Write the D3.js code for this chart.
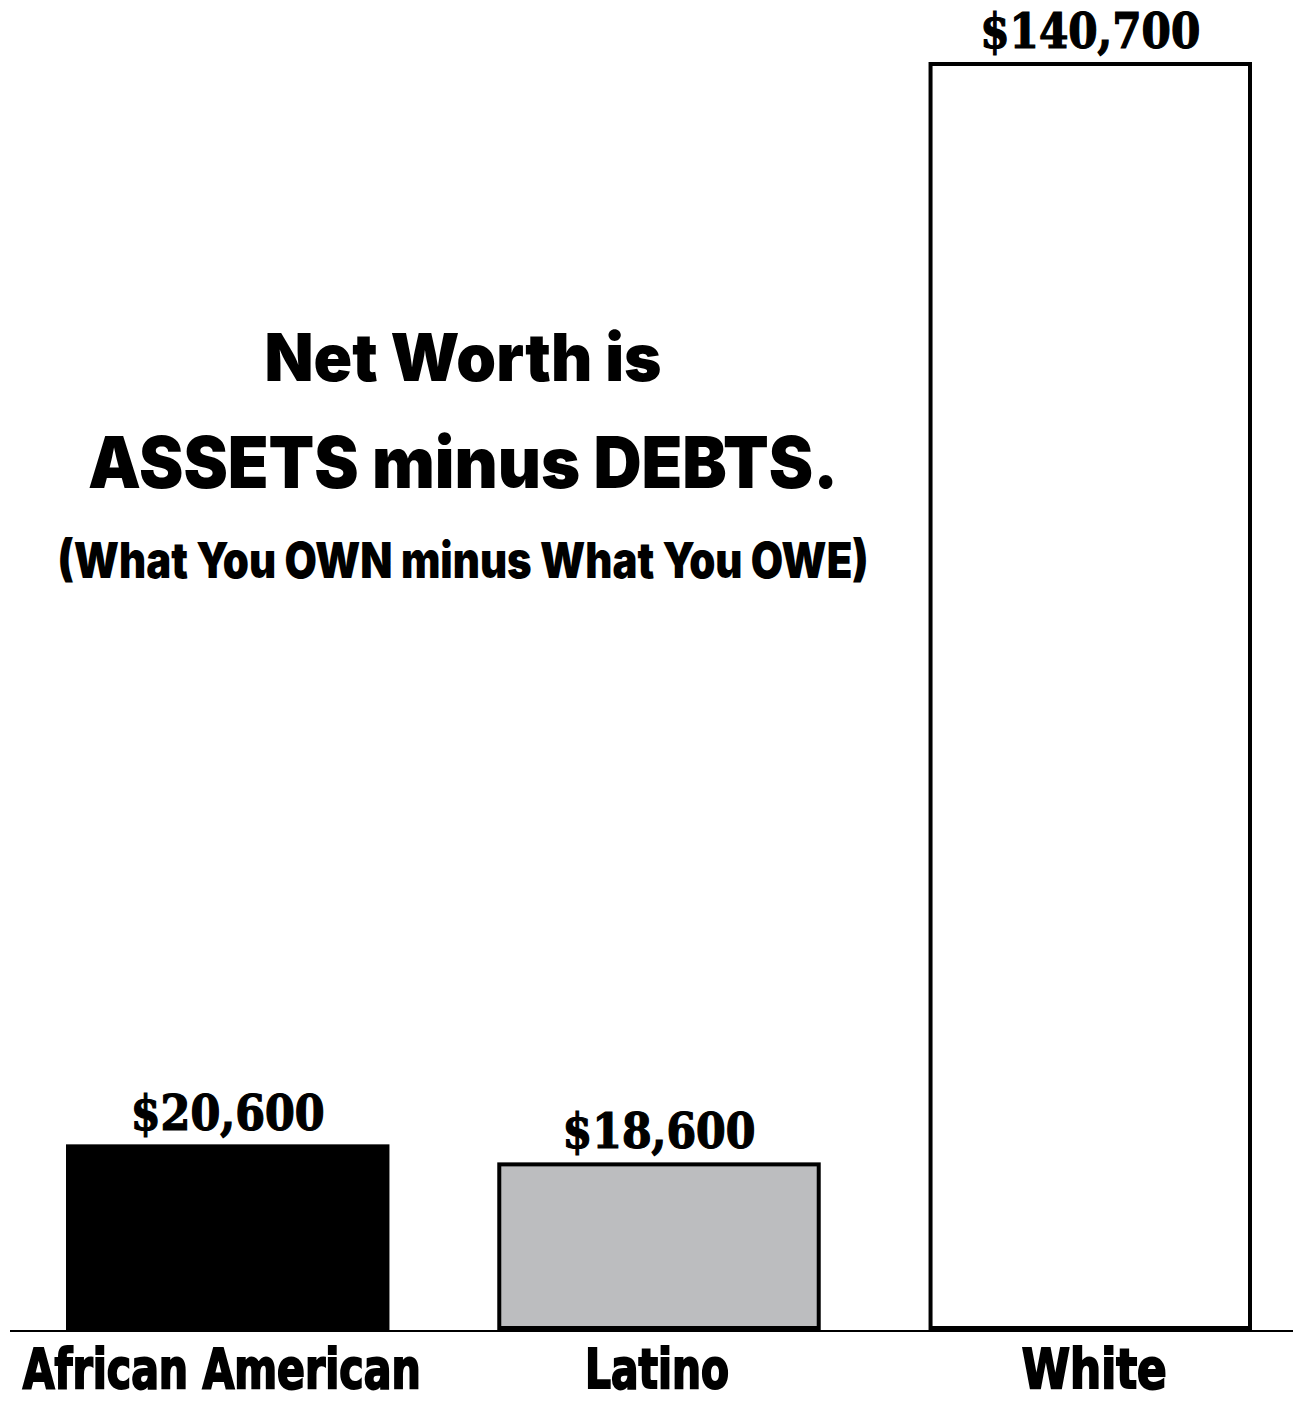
<!DOCTYPE html>
<html><head><meta charset="utf-8">
<script src="https://cdn.jsdelivr.net/npm/d3@7"></script>
<style>
html,body{margin:0;padding:0;background:#fff;}
svg{display:block;}
</style></head>
<body>
<svg id="chart" width="1293" height="1401"></svg>
<script>
const categories = ["African American", "Latino", "White"];
const values = [20600, 18600, 140700];
const valueLabels = ["$20,600", "$18,600", "$140,700"];
const fills = ["#000000", "#bcbdbf", "#ffffff"];
const titleLines = ["Net Worth is", "ASSETS minus DEBTS.", "(What You OWN minus What You OWE)"];

const svg = d3.select("#chart");
const W = 1293, H = 1401;
const baseY = 1330;

const x = d3.scaleBand().domain(categories).range([66, 1252]).paddingInner(0.25).paddingOuter(0);
const y = d3.scaleLinear().domain([0, d3.max(values)]).range([baseY, 62]);

const sw = 4;
const data = categories.map((c, i) => ({c, v: values[i], label: valueLabels[i], fill: fills[i]}));

svg.append("g").selectAll("rect").data(data).join("rect")
  .attr("x", d => x(d.c) + sw/2)
  .attr("width", x.bandwidth() - sw)
  .attr("y", d => y(d.v) + sw/2)
  .attr("height", d => baseY - y(d.v) - sw)
  .attr("fill", d => d.fill)
  .attr("stroke", "#000")
  .attr("stroke-width", sw);

// baseline axis
svg.append("line").attr("x1", 10).attr("x2", W).attr("y1", baseY + 1).attr("y2", baseY + 1)
  .attr("stroke", "#000").attr("stroke-width", 2);

const labelWidths = [194, 193, 220];
svg.append("g").selectAll("text").data(data).join("text")
  .attr("x", d => x(d.c) + x.bandwidth()/2)
  .attr("y", d => y(d.v) - 14)
  .attr("text-anchor", "middle")
  .attr("font-family", "'DejaVu Serif Condensed','DejaVu Serif',serif")
  .attr("font-weight", "bold")
  .attr("font-size", 48)
  .attr("textLength", (d, i) => labelWidths[i])
  .attr("lengthAdjust", "spacingAndGlyphs")
  .attr("fill", "#000")
  .attr("stroke", "#000")
  .attr("stroke-width", 1.2)
  .text(d => d.label);

const catWidths = [398, 144, 145];
svg.append("g").selectAll("text").data(data).join("text")
  .attr("x", (d, i) => x(d.c) + x.bandwidth()/2 + (i === 0 ? -6 : (i === 2 ? 4 : -2)))
  .attr("y", 1388)
  .attr("text-anchor", "middle")
  .attr("font-family", "'DejaVu Sans Condensed','DejaVu Sans',sans-serif")
  .attr("font-weight", "bold")
  .attr("font-size", 56)
  .attr("textLength", (d, i) => catWidths[i])
  .attr("lengthAdjust", "spacingAndGlyphs")
  .attr("fill", "#000")
  .attr("stroke", "#000")
  .attr("stroke-width", 2)
  .text(d => d.c);

const titleY = [381, 488, 578];
const titleSize = [66, 71, 50];
const titleW = [397, 750, 811];
svg.append("g").selectAll("text").data(titleLines).join("text")
  .attr("x", 463)
  .attr("y", (d, i) => titleY[i])
  .attr("text-anchor", "middle")
  .attr("font-family", "Inter, 'Open Sans', 'DejaVu Sans', sans-serif")
  .attr("font-weight", 900)
  .attr("font-size", (d, i) => titleSize[i])
  .attr("textLength", (d, i) => titleW[i])
  .attr("lengthAdjust", "spacingAndGlyphs")
  .attr("fill", "#000")
  .text(d => d);
</script>
</body></html>
